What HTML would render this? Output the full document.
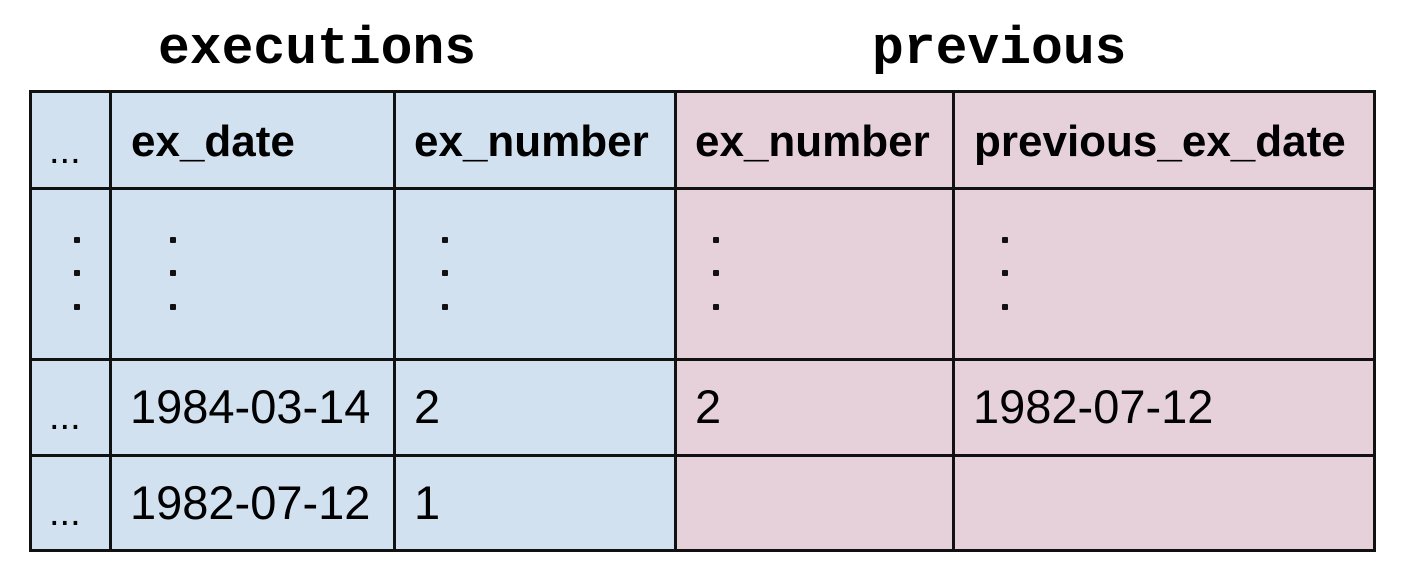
<!DOCTYPE html>
<html><head><style>
body{margin:0;width:1406px;height:580px;background:#fff;position:relative;overflow:hidden;font-family:"Liberation Sans",sans-serif}
.a{position:absolute}
.t{position:absolute;font-family:"Liberation Mono",monospace;font-weight:bold;font-size:53px;top:19px;line-height:60px}
.h{position:absolute;font-weight:bold;font-size:44px;line-height:50px;top:117px}
.d{position:absolute;font-size:47px;line-height:50px}
.e{position:absolute;font-size:38px;line-height:50px;left:49px}
.v{position:absolute;background:#111;width:3px}
.hz{position:absolute;background:#111;height:3px;left:29px;width:1347px}
.dot{position:absolute;width:6px;height:6px;background:#111;border-radius:1px}
</style></head><body>
<div class="t" style="left:158px">executions</div>
<div class="t" style="left:872px">previous</div>
<div class="a" style="left:30px;top:91px;width:646px;height:460px;background:#d2e1f0"></div>
<div class="a" style="left:676px;top:91px;width:699px;height:460px;background:#e6d1db"></div>
<div class="hz" style="top:90px"></div>
<div class="hz" style="top:187px"></div>
<div class="hz" style="top:358px"></div>
<div class="hz" style="top:454px"></div>
<div class="hz" style="top:549px"></div>
<div class="v" style="left:29px;top:90px;height:462px"></div>
<div class="v" style="left:109px;top:90px;height:462px"></div>
<div class="v" style="left:393px;top:90px;height:462px"></div>
<div class="v" style="left:674px;top:90px;height:462px"></div>
<div class="v" style="left:952px;top:90px;height:462px"></div>
<div class="v" style="left:1373px;top:90px;height:462px"></div>
<div class="e" style="top:126px">...</div>
<div class="h" style="left:131px">ex_date</div>
<div class="h" style="left:414px">ex_number</div>
<div class="h" style="left:695px">ex_number</div>
<div class="h" style="left:974px">previous_ex_date</div>
<div class="dot" style="left:74px;top:237px"></div><div class="dot" style="left:74px;top:270px"></div><div class="dot" style="left:74px;top:304px"></div>
<div class="dot" style="left:170px;top:237px"></div><div class="dot" style="left:170px;top:270px"></div><div class="dot" style="left:170px;top:304px"></div>
<div class="dot" style="left:442px;top:237px"></div><div class="dot" style="left:442px;top:270px"></div><div class="dot" style="left:442px;top:304px"></div>
<div class="dot" style="left:713px;top:237px"></div><div class="dot" style="left:713px;top:270px"></div><div class="dot" style="left:713px;top:304px"></div>
<div class="dot" style="left:1002px;top:237px"></div><div class="dot" style="left:1002px;top:270px"></div><div class="dot" style="left:1002px;top:304px"></div>
<div class="e" style="top:392px">...</div>
<div class="d" style="left:130px;top:382px">1984-03-14</div>
<div class="d" style="left:414px;top:382px">2</div>
<div class="d" style="left:695px;top:382px">2</div>
<div class="d" style="left:973px;top:382px">1982-07-12</div>
<div class="e" style="top:488px">...</div>
<div class="d" style="left:130px;top:478px">1982-07-12</div>
<div class="d" style="left:414px;top:478px">1</div>
</body></html>
